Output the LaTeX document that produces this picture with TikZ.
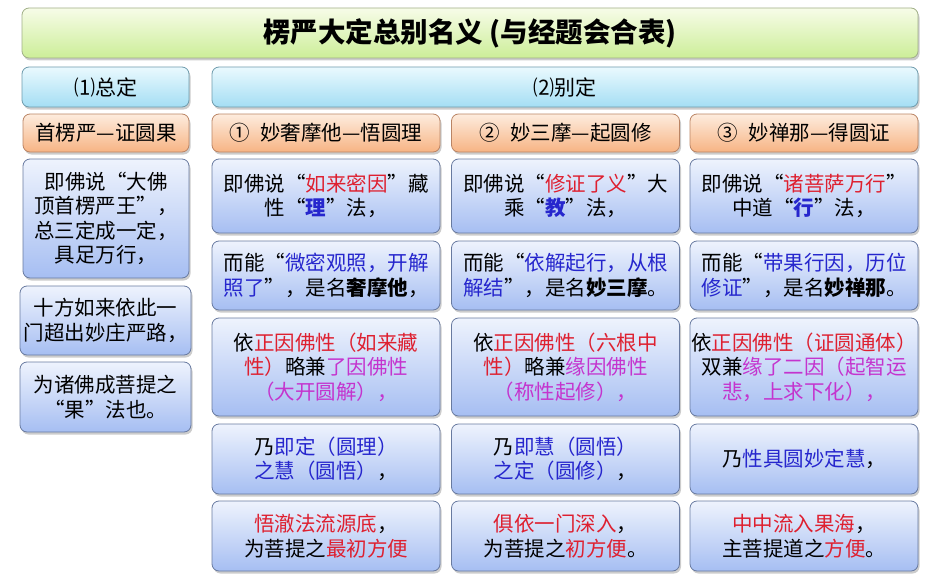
\documentclass[tikz,border=0pt]{standalone}
\usepackage{fontspec}
\setmainfont{Noto Sans CJK SC}
\usetikzlibrary{shadows}

\definecolor{txtred}{RGB}{222,32,48}
\definecolor{txtblue}{RGB}{38,38,205}
\definecolor{txtmag}{RGB}{196,52,206}
\newcommand{\hlred}[1]{\textcolor{txtred}{#1}}
\newcommand{\hlblue}[1]{\textcolor{txtblue}{#1}}
\newcommand{\hlmag}[1]{\textcolor{txtmag}{#1}}

\tikzset{
  cell/.style={rectangle, rounded corners=7pt, align=center, inner xsep=1pt,
    line width=0.8pt, drop shadow={shadow xshift=1.5pt, shadow yshift=-2.5pt, opacity=0.4},
    font=\fontsize{20.5pt}{24.5pt}\selectfont},
  bluecell/.style={cell, draw={rgb,255:red,104;green,122;blue,160},
    top color={rgb,255:red,238;green,243;blue,253}, bottom color={rgb,255:red,166;green,190;blue,242}},
  headcell/.style={cell, draw={rgb,255:red,186;green,132;blue,100},
    top color={rgb,255:red,253;green,236;blue,222}, bottom color={rgb,255:red,247;green,180;blue,132}},
  partcell/.style={cell, draw={rgb,255:red,110;green,155;blue,172},
    top color={rgb,255:red,234;green,249;blue,254}, bottom color={rgb,255:red,164;green,222;blue,244},
    font=\fontsize{21pt}{25pt}\selectfont},
  titlecell/.style={cell, draw={rgb,255:red,160;green,175;blue,135},
    top color={rgb,255:red,247;green,252;blue,232}, bottom color={rgb,255:red,204;green,238;blue,152},
    font=\fontsize{27.5pt}{32pt}\selectfont\bfseries},
  colw/.style={minimum width=228pt},
}

\begin{document}
\begin{tikzpicture}[x=1pt, y=-1pt]
  \useasboundingbox (0,0) rectangle (942,586);

  % title and the two parts
  \node[titlecell, minimum width=896pt, minimum height=50pt] (title) at (470,33) {楞严大定总别名义 (与经题会合表)};
  \node[partcell, minimum width=167pt, minimum height=40pt] (total) at (105.5,87) {⑴总定};
  \node[partcell, minimum width=706pt, minimum height=40pt] (separate) at (565,87) {⑵别定};

  % headings
  \node[headcell, minimum width=166pt, minimum height=38pt] (headL) at (106,133) {首楞严—证圆果};
  \node[headcell, colw, minimum height=38pt] (headA) at (326,133) {①\hspace{0.5em}妙奢摩他—悟圆理};
  \node[headcell, colw, minimum height=38pt] (headB) at (565.5,133) {②\hspace{0.5em}妙三摩—起圆修};
  \node[headcell, colw, minimum height=38pt] (headC) at (804,133) {③\hspace{0.5em}妙禅那—得圆证};

  % left column
  \node[bluecell, minimum width=166pt, minimum height=119pt] (left1) at (106,218.5)
    {即佛说“大佛\\顶首楞严王”，\\总三定成一定，\\具足万行，};
  \node[bluecell, minimum width=171pt, minimum height=69pt] (left2) at (105.5,320.5)
    {十方如来依此一\\门超出妙庄严路，};
  \node[bluecell, minimum width=171pt, minimum height=70pt] (left3) at (105.5,397)
    {为诸佛成菩提之\\“果”法也。};

  % column 1
  \node[bluecell, colw, minimum height=74pt] (a1) at (326,196)
    {即佛说“\hlred{如来密因}”藏\\性“\hlblue{\textbf{理}}”法，};
  \node[bluecell, colw, minimum height=69pt] (a2) at (326,275.5)
    {而能“\hlblue{微密观照，开解}\\\hlblue{照了}”，是名\textbf{奢摩他}，};
  \node[bluecell, colw, minimum height=98pt] (a3) at (326,367)
    {依\hlred{正因佛性（如来藏}\\\hlred{性）}略兼\hlmag{了因佛性}\\\hlmag{（大开圆解），}};
  \node[bluecell, colw, minimum height=70pt] (a4) at (326,459)
    {乃\hlblue{即定（圆理）}\\\hlblue{之慧（圆悟）}，};
  \node[bluecell, colw, minimum height=70pt] (a5) at (326,536)
    {\hlred{悟澈法流源底}，\\为菩提之\hlred{最初方便}};

  % column 2
  \node[bluecell, colw, minimum height=74pt] (b1) at (565.5,196)
    {即佛说“\hlred{修证了义}”大\\乘“\hlblue{\textbf{教}}”法，};
  \node[bluecell, colw, minimum height=69pt] (b2) at (565.5,275.5)
    {而能“\hlblue{依解起行，从根}\\\hlblue{解结}”，是名\textbf{妙三摩}。};
  \node[bluecell, colw, minimum height=98pt] (b3) at (565.5,367)
    {依\hlred{正因佛性（六根中}\\\hlred{性）}略兼\hlmag{缘因佛性}\\\hlmag{（称性起修），}};
  \node[bluecell, colw, minimum height=70pt] (b4) at (565.5,459)
    {乃\hlblue{即慧（圆悟）}\\\hlblue{之定（圆修）}，};
  \node[bluecell, colw, minimum height=70pt] (b5) at (565.5,536)
    {\hlred{俱依一门深入}，\\为菩提之\hlred{初方便}。};

  % column 3
  \node[bluecell, colw, minimum height=74pt] (c1) at (804,196)
    {即佛说“\hlred{诸菩萨万行}”\\中道“\hlblue{\textbf{行}}”法，};
  \node[bluecell, colw, minimum height=69pt] (c2) at (804,275.5)
    {而能“\hlblue{带果行因，历位}\\\hlblue{修证}”，是名\textbf{妙禅那}。};
  \node[bluecell, colw, minimum height=98pt] (c3) at (804,367)
    {依\hlred{正因佛性（证圆通体）}\\双兼\hlmag{缘了二因（起智运}\\\hlmag{悲，上求下化），}};
  \node[bluecell, colw, minimum height=70pt] (c4) at (804,459)
    {乃\hlblue{性具圆妙定慧}，};
  \node[bluecell, colw, minimum height=70pt] (c5) at (804,536)
    {\hlred{中中流入果海}，\\主菩提道之\hlred{方便}。};
\end{tikzpicture}
\end{document}
